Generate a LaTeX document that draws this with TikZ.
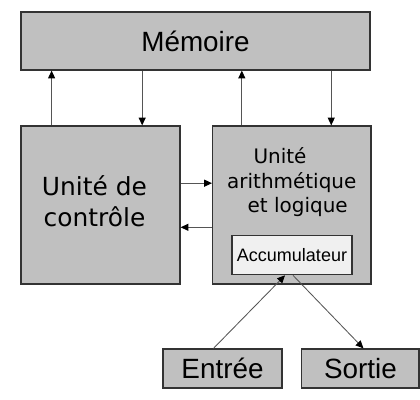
\documentclass[tikz,border=0pt]{standalone}
\usepackage{xcolor}
\usepackage{fontspec}
\setmainfont{Liberation Sans}
\newfontfamily\dejavu{DejaVu Sans}
\usepackage{tikz}
\usetikzlibrary{positioning,calc,arrows.meta}
\definecolor{boxgray}{HTML}{C0C0C0}
\definecolor{accgray}{HTML}{F0F0F0}
\definecolor{edge}{HTML}{333333}
\definecolor{wire}{HTML}{555555}

\begin{document}
\begin{tikzpicture}[x=0.025cm, y=-0.025cm,
  unit/.style={rectangle, draw=edge, fill=#1, line width=0.9pt,
    inner sep=0pt, align=center},
  unit/.default=boxgray,
  big/.style={font=\fontsize{19.8}{23}\selectfont},
  arr/.style={-{Triangle[length=5.5pt, width=5pt, black]}, draw=wire, line width=0.6pt}
]
\useasboundingbox (0,0) rectangle (420,400);

\node[unit, big, minimum width=8.725cm, minimum height=1.45cm] (memoire) at (195.5,41) {Mémoire};
\node[unit, minimum width=3.975cm, minimum height=3.95cm] (ctrl) at (100.5,205) {};
\node[unit, minimum width=3.96cm, minimum height=3.95cm] (alu) at (291.8,205) {};
\node[unit=accgray, font=\fontsize{12.8}{15}\selectfont,
  minimum width=3cm, minimum height=0.975cm] (acc) at (292,255.2) {Accumulateur};
\node[unit, big, minimum width=2.975cm, minimum height=0.975cm] (entree) at (222.5,368.5) {Entrée};
\node[unit, big, minimum width=2.93cm, minimum height=0.975cm] (sortie) at (360.4,368.5) {Sortie};

% texts of the two units
\node[align=center, inner sep=0pt, font=\dejavu\fontsize{17.7}{22}\selectfont]
  (ctrltxt) at ($(ctrl.center)+(-6,-4)$) {Unité de\\contrôle};
\node[align=center, inner sep=0pt, anchor=north, font=\dejavu\fontsize{14.2}{17.4}\selectfont]
  (alutxt) at ($(alu.north)+(0,22)$) {Unité\hphantom{xx}\\arithmétique\\\hphantom{x}et logique};

% memory bus
\coordinate (c1) at ($(ctrl.north west)!0.195!(ctrl.north east)$);
\coordinate (c2) at ($(ctrl.north west)!0.76!(ctrl.north east)$);
\coordinate (a1) at ($(alu.north west)!0.187!(alu.north east)$);
\coordinate (a2) at ($(alu.north west)!0.747!(alu.north east)$);
\draw[arr] (c1) -- (c1 |- memoire.south);
\draw[arr] (c2 |- memoire.south) -- (c2);
\draw[arr] (a1) -- (a1 |- memoire.south);
\draw[arr] (a2 |- memoire.south) -- (a2);

% control <-> alu
\coordinate (h1) at ($(ctrl.north east)!0.363!(ctrl.south east)$);
\coordinate (h2) at ($(ctrl.north east)!0.64!(ctrl.south east)$);
\draw[arr] (h1) -- (h1 -| alu.west);
\draw[arr] (h2 -| alu.west) -- (h2);

% input / output
\draw[arr] ($(entree.north)+(-9,0)$) -- ($(acc.south)+(-7,0)$);
\draw[arr] ($(acc.south)+(1,0)$) -- ($(sortie.north)+(3,0)$);

\end{tikzpicture}
\end{document}
